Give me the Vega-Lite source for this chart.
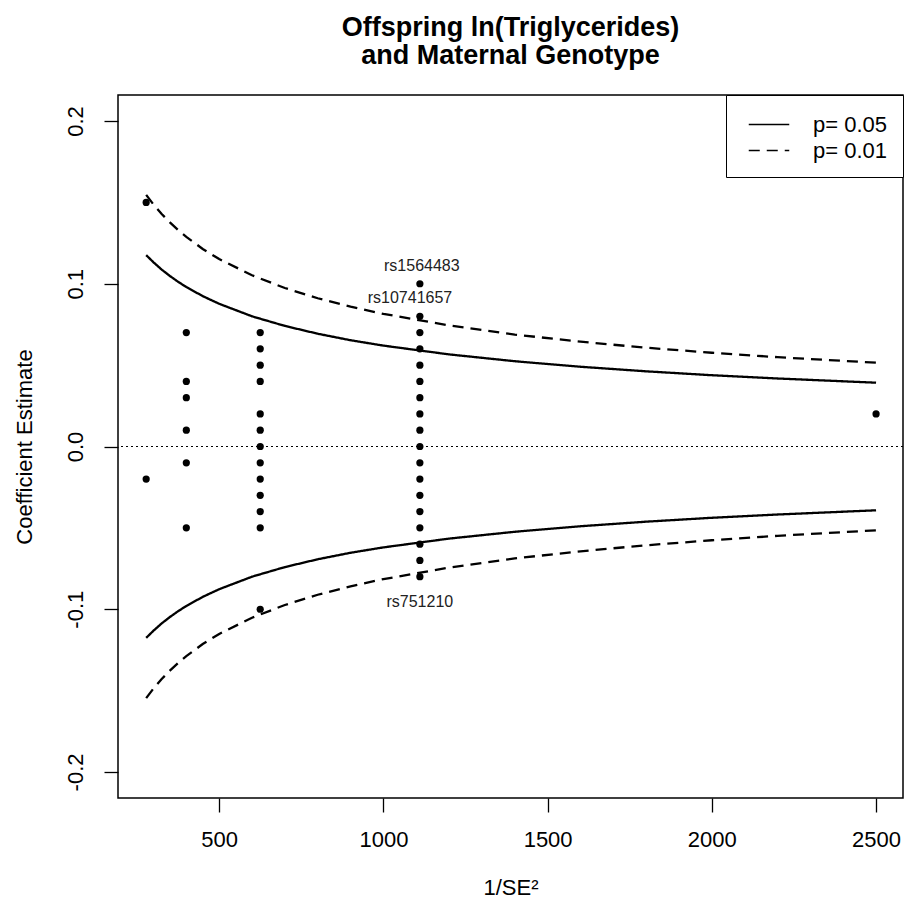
{
  "$schema": "https://vega.github.io/schema/vega-lite/v6.json",
  "width": 785,
  "height": 703,
  "autosize": {"type": "none"},
  "padding": {"left": 118, "top": 95, "right": 4, "bottom": 113},
  "background": "white",
  "title": {
    "text": ["Offspring ln(Triglycerides)", "and Maternal Genotype"],
    "font": "Liberation Sans",
    "fontSize": 27,
    "fontWeight": "bold",
    "color": "black",
    "anchor": "middle",
    "frame": "group",
    "lineHeight": 28,
    "offset": 25
  },
  "config": {
    "view": {"stroke": "black", "strokeWidth": 1.5},
    "axis": {
      "grid": false,
      "domain": false,
      "tickColor": "black",
      "tickWidth": 1.3,
      "tickSize": 14,
      "labelFont": "Liberation Sans",
      "labelFontSize": 22,
      "labelColor": "black",
      "titleFont": "Liberation Sans",
      "titleFontSize": 22,
      "titleFontWeight": "normal",
      "titleColor": "black"
    },
    "legend": {
      "labelFont": "Liberation Sans",
      "labelFontSize": 22,
      "labelColor": "black"
    }
  },
  "datasets": {
    "points": [
      {"x": 277.78, "y": 0.15}, {"x": 277.78, "y": -0.02},
      {"x": 400, "y": 0.07}, {"x": 400, "y": 0.04}, {"x": 400, "y": 0.03}, {"x": 400, "y": 0.01}, {"x": 400, "y": -0.01}, {"x": 400, "y": -0.05},
      {"x": 625, "y": 0.07}, {"x": 625, "y": 0.06}, {"x": 625, "y": 0.05}, {"x": 625, "y": 0.04}, {"x": 625, "y": 0.02}, {"x": 625, "y": 0.01}, {"x": 625, "y": 0.0}, {"x": 625, "y": -0.01}, {"x": 625, "y": -0.02}, {"x": 625, "y": -0.03}, {"x": 625, "y": -0.04}, {"x": 625, "y": -0.05}, {"x": 625, "y": -0.10},
      {"x": 1111.1, "y": 0.10}, {"x": 1111.1, "y": 0.08}, {"x": 1111.1, "y": 0.07}, {"x": 1111.1, "y": 0.06}, {"x": 1111.1, "y": 0.05}, {"x": 1111.1, "y": 0.04}, {"x": 1111.1, "y": 0.03}, {"x": 1111.1, "y": 0.02}, {"x": 1111.1, "y": 0.01}, {"x": 1111.1, "y": 0.0}, {"x": 1111.1, "y": -0.01}, {"x": 1111.1, "y": -0.02}, {"x": 1111.1, "y": -0.03}, {"x": 1111.1, "y": -0.04}, {"x": 1111.1, "y": -0.05}, {"x": 1111.1, "y": -0.06}, {"x": 1111.1, "y": -0.07}, {"x": 1111.1, "y": -0.08},
      {"x": 2500, "y": 0.02}
    ],
    "labels": [
      {"x": 1117, "y": 0.1108, "label": "rs1564483"},
      {"x": 1081, "y": 0.0911, "label": "rs10741657"},
      {"x": 1111, "y": -0.0954, "label": "rs751210"}
    ],
    "curves": [
      {"x": 277.8, "y": 0.1176, "p": "p= 0.05", "side": "u05"},
      {"x": 300, "y": 0.1132, "p": "p= 0.05", "side": "u05"},
      {"x": 325, "y": 0.1087, "p": "p= 0.05", "side": "u05"},
      {"x": 350, "y": 0.1048, "p": "p= 0.05", "side": "u05"},
      {"x": 375, "y": 0.1012, "p": "p= 0.05", "side": "u05"},
      {"x": 400, "y": 0.098, "p": "p= 0.05", "side": "u05"},
      {"x": 450, "y": 0.0924, "p": "p= 0.05", "side": "u05"},
      {"x": 500, "y": 0.0877, "p": "p= 0.05", "side": "u05"},
      {"x": 600, "y": 0.08, "p": "p= 0.05", "side": "u05"},
      {"x": 700, "y": 0.0741, "p": "p= 0.05", "side": "u05"},
      {"x": 800, "y": 0.0693, "p": "p= 0.05", "side": "u05"},
      {"x": 900, "y": 0.0653, "p": "p= 0.05", "side": "u05"},
      {"x": 1000, "y": 0.062, "p": "p= 0.05", "side": "u05"},
      {"x": 1200, "y": 0.0566, "p": "p= 0.05", "side": "u05"},
      {"x": 1400, "y": 0.0524, "p": "p= 0.05", "side": "u05"},
      {"x": 1600, "y": 0.049, "p": "p= 0.05", "side": "u05"},
      {"x": 1800, "y": 0.0462, "p": "p= 0.05", "side": "u05"},
      {"x": 2000, "y": 0.0438, "p": "p= 0.05", "side": "u05"},
      {"x": 2200, "y": 0.0418, "p": "p= 0.05", "side": "u05"},
      {"x": 2500, "y": 0.0392, "p": "p= 0.05", "side": "u05"},
      {"x": 277.8, "y": -0.1176, "p": "p= 0.05", "side": "l05"},
      {"x": 300, "y": -0.1132, "p": "p= 0.05", "side": "l05"},
      {"x": 325, "y": -0.1087, "p": "p= 0.05", "side": "l05"},
      {"x": 350, "y": -0.1048, "p": "p= 0.05", "side": "l05"},
      {"x": 375, "y": -0.1012, "p": "p= 0.05", "side": "l05"},
      {"x": 400, "y": -0.098, "p": "p= 0.05", "side": "l05"},
      {"x": 450, "y": -0.0924, "p": "p= 0.05", "side": "l05"},
      {"x": 500, "y": -0.0877, "p": "p= 0.05", "side": "l05"},
      {"x": 600, "y": -0.08, "p": "p= 0.05", "side": "l05"},
      {"x": 700, "y": -0.0741, "p": "p= 0.05", "side": "l05"},
      {"x": 800, "y": -0.0693, "p": "p= 0.05", "side": "l05"},
      {"x": 900, "y": -0.0653, "p": "p= 0.05", "side": "l05"},
      {"x": 1000, "y": -0.062, "p": "p= 0.05", "side": "l05"},
      {"x": 1200, "y": -0.0566, "p": "p= 0.05", "side": "l05"},
      {"x": 1400, "y": -0.0524, "p": "p= 0.05", "side": "l05"},
      {"x": 1600, "y": -0.049, "p": "p= 0.05", "side": "l05"},
      {"x": 1800, "y": -0.0462, "p": "p= 0.05", "side": "l05"},
      {"x": 2000, "y": -0.0438, "p": "p= 0.05", "side": "l05"},
      {"x": 2200, "y": -0.0418, "p": "p= 0.05", "side": "l05"},
      {"x": 2500, "y": -0.0392, "p": "p= 0.05", "side": "l05"},
      {"x": 277.8, "y": 0.1546, "p": "p= 0.01", "side": "u01"},
      {"x": 300, "y": 0.1487, "p": "p= 0.01", "side": "u01"},
      {"x": 325, "y": 0.1429, "p": "p= 0.01", "side": "u01"},
      {"x": 350, "y": 0.1377, "p": "p= 0.01", "side": "u01"},
      {"x": 375, "y": 0.133, "p": "p= 0.01", "side": "u01"},
      {"x": 400, "y": 0.1288, "p": "p= 0.01", "side": "u01"},
      {"x": 450, "y": 0.1214, "p": "p= 0.01", "side": "u01"},
      {"x": 500, "y": 0.1152, "p": "p= 0.01", "side": "u01"},
      {"x": 600, "y": 0.1052, "p": "p= 0.01", "side": "u01"},
      {"x": 700, "y": 0.0974, "p": "p= 0.01", "side": "u01"},
      {"x": 800, "y": 0.0911, "p": "p= 0.01", "side": "u01"},
      {"x": 900, "y": 0.0859, "p": "p= 0.01", "side": "u01"},
      {"x": 1000, "y": 0.0815, "p": "p= 0.01", "side": "u01"},
      {"x": 1200, "y": 0.0744, "p": "p= 0.01", "side": "u01"},
      {"x": 1400, "y": 0.0688, "p": "p= 0.01", "side": "u01"},
      {"x": 1600, "y": 0.0644, "p": "p= 0.01", "side": "u01"},
      {"x": 1800, "y": 0.0607, "p": "p= 0.01", "side": "u01"},
      {"x": 2000, "y": 0.0576, "p": "p= 0.01", "side": "u01"},
      {"x": 2200, "y": 0.0549, "p": "p= 0.01", "side": "u01"},
      {"x": 2500, "y": 0.0515, "p": "p= 0.01", "side": "u01"},
      {"x": 277.8, "y": -0.1546, "p": "p= 0.01", "side": "l01"},
      {"x": 300, "y": -0.1487, "p": "p= 0.01", "side": "l01"},
      {"x": 325, "y": -0.1429, "p": "p= 0.01", "side": "l01"},
      {"x": 350, "y": -0.1377, "p": "p= 0.01", "side": "l01"},
      {"x": 375, "y": -0.133, "p": "p= 0.01", "side": "l01"},
      {"x": 400, "y": -0.1288, "p": "p= 0.01", "side": "l01"},
      {"x": 450, "y": -0.1214, "p": "p= 0.01", "side": "l01"},
      {"x": 500, "y": -0.1152, "p": "p= 0.01", "side": "l01"},
      {"x": 600, "y": -0.1052, "p": "p= 0.01", "side": "l01"},
      {"x": 700, "y": -0.0974, "p": "p= 0.01", "side": "l01"},
      {"x": 800, "y": -0.0911, "p": "p= 0.01", "side": "l01"},
      {"x": 900, "y": -0.0859, "p": "p= 0.01", "side": "l01"},
      {"x": 1000, "y": -0.0815, "p": "p= 0.01", "side": "l01"},
      {"x": 1200, "y": -0.0744, "p": "p= 0.01", "side": "l01"},
      {"x": 1400, "y": -0.0688, "p": "p= 0.01", "side": "l01"},
      {"x": 1600, "y": -0.0644, "p": "p= 0.01", "side": "l01"},
      {"x": 1800, "y": -0.0607, "p": "p= 0.01", "side": "l01"},
      {"x": 2000, "y": -0.0576, "p": "p= 0.01", "side": "l01"},
      {"x": 2200, "y": -0.0549, "p": "p= 0.01", "side": "l01"},
      {"x": 2500, "y": -0.0515, "p": "p= 0.01", "side": "l01"}
    ]
  },
  "layer": [
    {
      "data": {"values": [{"y": 0}]},
      "mark": {"type": "rule", "color": "black", "strokeWidth": 1.2, "strokeDash": [2, 3]},
      "encoding": {
        "y": {"field": "y", "type": "quantitative"}
      }
    },
    {
      "data": {"name": "curves"},
      "mark": {"type": "line", "color": "black", "strokeWidth": 2.3, "clip": true},
      "encoding": {
        "x": {
          "field": "x", "type": "quantitative",
          "scale": {"domain": [192, 2582], "nice": false, "zero": false},
          "axis": {
            "values": [500, 1000, 1500, 2000, 2500],
            "format": "d",
            "labelPadding": 17,
            "labelBaseline": "top",
            "title": "1/SE²",
            "titleX": 392.5,
            "titleY": 96,
            "titleBaseline": "alphabetic",
            "titleAlign": "center"
          }
        },
        "y": {
          "field": "y", "type": "quantitative",
          "scale": {"domain": [-0.216, 0.216], "nice": false, "zero": false},
          "axis": {
            "values": [-0.2, -0.1, 0, 0.1, 0.2],
            "labelExpr": "datum.value < 0 ? '-' + format(-datum.value, '.1f') : format(datum.value, '.1f')",
            "labelAngle": -90,
            "labelAlign": "center",
            "labelBaseline": "alphabetic",
            "labelPadding": 22,
            "title": "Coefficient Estimate",
            "titleAngle": -90,
            "titleX": -87,
            "titleY": 351.5,
            "titleAlign": "center",
            "titleBaseline": "alphabetic"
          }
        },
        "detail": {"field": "side"},
        "order": {"field": "x", "type": "quantitative"},
        "strokeDash": {
          "field": "p", "type": "nominal",
          "scale": {"domain": ["p= 0.05", "p= 0.01"], "range": [[1, 0], [11, 7]]},
          "legend": {
            "title": null,
            "orient": "top-right",
            "offset": 0,
            "padding": 15,
            "strokeColor": "black",
            "fillColor": "white",
            "symbolType": "M-0.5,0H2.5",
            "symbolSize": 729,
            "symbolStrokeWidth": 1.6,
            "symbolStrokeColor": "black",
            "labelOffset": 43,
            "rowPadding": 0
          }
        }
      }
    },
    {
      "data": {"name": "points"},
      "mark": {"type": "circle", "color": "black", "size": 52, "opacity": 1},
      "encoding": {
        "x": {"field": "x", "type": "quantitative"},
        "y": {"field": "y", "type": "quantitative"}
      }
    },
    {
      "data": {"name": "labels"},
      "mark": {"type": "text", "font": "Liberation Sans", "fontSize": 16, "color": "#222222", "align": "center", "baseline": "middle"},
      "encoding": {
        "x": {"field": "x", "type": "quantitative"},
        "y": {"field": "y", "type": "quantitative"},
        "text": {"field": "label"}
      }
    }
  ]
}
